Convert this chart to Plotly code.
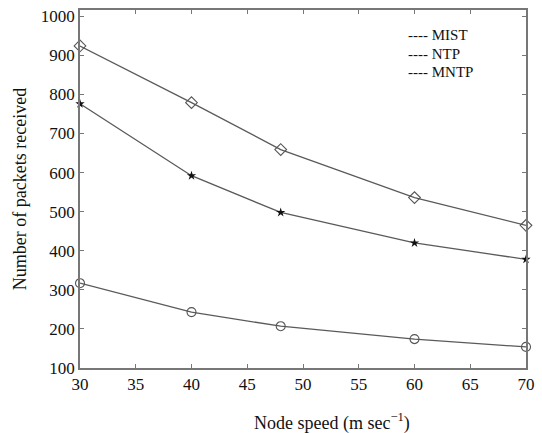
import plotly.graph_objects as go

speed = [30, 40, 48, 60, 70]
top_series = [924, 779, 659, 536, 465]
mid_series = [776, 592, 498, 420, 378]
low_series = [317, 243, 207, 174, 154]
x_ticks = [30, 35, 40, 45, 50, 55, 60, 65, 70]
y_ticks = [100, 200, 300, 400, 500, 600, 700, 800, 900, 1000]
legend_labels = ["MIST", "NTP", "MNTP"]

FONT = "Liberation Serif, Times New Roman, serif"
LINE = "#5a5a5a"

fig = go.Figure()
fig.add_trace(go.Scatter(x=speed, y=top_series, mode="lines+markers", name="MNTP",
                         line=dict(color=LINE, width=1.3),
                         marker=dict(symbol="diamond-open", size=9, color="#555",
                                     line=dict(width=1.1)),
                         cliponaxis=False, showlegend=False))
fig.add_trace(go.Scatter(x=speed, y=mid_series, mode="lines+markers", name="NTP",
                         line=dict(color=LINE, width=1.3),
                         marker=dict(symbol="star", size=7, color="#111"),
                         cliponaxis=False, showlegend=False))
fig.add_trace(go.Scatter(x=speed, y=low_series, mode="lines+markers", name="MIST",
                         line=dict(color=LINE, width=1.3),
                         marker=dict(symbol="circle-open", size=9, color="#555",
                                     line=dict(width=1.1)),
                         cliponaxis=False, showlegend=False))

for i, lab in enumerate(legend_labels):
    fig.add_annotation(xref="paper", yref="paper", x=0.732, y=0.93 - i * 0.052,
                       xanchor="left", yanchor="middle", showarrow=False,
                       text="---- " + lab, font=dict(family=FONT, size=15, color="#111"))

fig.add_annotation(xref="paper", yref="paper", x=0.565, y=-0.15, xanchor="center",
                   yanchor="middle", showarrow=False,
                   text="Node speed (m sec<sup>−1</sup>)",
                   font=dict(family=FONT, size=18, color="#111"))

fig.update_xaxes(range=[30, 70], tickvals=x_ticks, ticks="inside", ticklen=4,
                 tickcolor="#777", showline=True, linecolor="#777", linewidth=1.5,
                 mirror="ticks", showgrid=False, zeroline=False,
                 tickfont=dict(family=FONT, size=17, color="#111"))
fig.update_yaxes(range=[100, 1016], tickvals=y_ticks, ticks="inside", ticklen=4,
                 tickcolor="#777", showline=True, linecolor="#777", linewidth=1.5,
                 mirror="ticks", showgrid=False, zeroline=False,
                 title=dict(text="Number of packets received", standoff=10,
                            font=dict(family=FONT, size=18, color="#111")),
                 tickfont=dict(family=FONT, size=17, color="#111"))

fig.update_layout(width=542, height=433, margin=dict(l=80, r=7, t=9, b=65),
                  plot_bgcolor="white", paper_bgcolor="white")
fig.write_html("out.html")
